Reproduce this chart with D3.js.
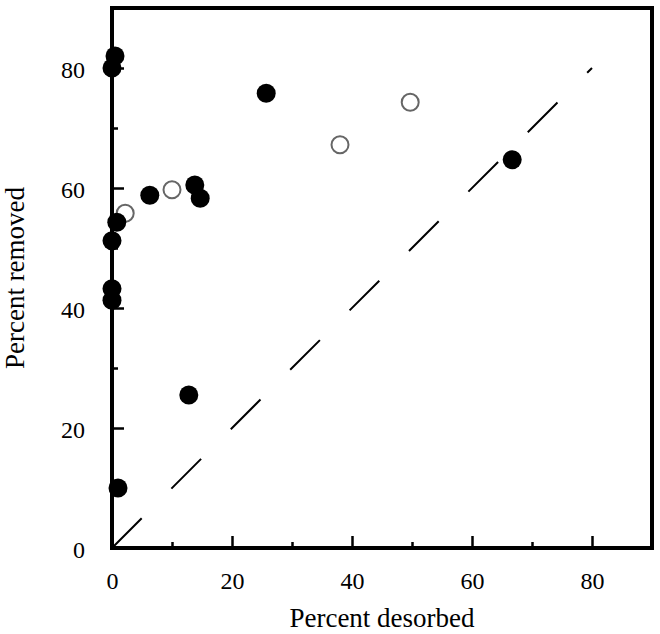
<!DOCTYPE html>
<html>
<head>
<meta charset="utf-8">
<script src="https://cdn.jsdelivr.net/npm/d3@7"></script>
<style>
  body { margin: 0; background: #fff; }
  text { font-family: "Liberation Serif", "Times New Roman", serif; fill: #000; }
</style>
</head>
<body>
<div id="chart"></div>
<script>
// filled circles
const filledX = [0.5, 0, 25.7, 66.7, 6.3, 13.8, 14.7, 0.8, 0, 0, 0, 12.8, 1];
const filledY = [82, 80, 75.8, 64.7, 58.8, 60.5, 58.3, 54.3, 51.2, 43.2, 41.3, 25.5, 10];
// open circles
const openX = [2.2, 10, 38, 49.7];
const openY = [55.8, 59.7, 67.2, 74.3];
// 1:1 line
const lineX = [0, 80];
const lineY = [0, 80];
const ticks = [0, 20, 40, 60, 80];
const minorTicks = [10, 30, 50, 70];

const W = 660, H = 634;
const margin = { top: 8, right: 8, bottom: 86, left: 112 };
const width = W - margin.left - margin.right;
const height = H - margin.top - margin.bottom;

const svg = d3.select("#chart").append("svg")
  .attr("width", W).attr("height", H);

const g = svg.append("g")
  .attr("transform", `translate(${margin.left},${margin.top})`);

const x = d3.scaleLinear().domain([0, 90]).range([0, width]);
const y = d3.scaleLinear().domain([0, 90]).range([height, 0]);

// dashed 1:1 line
g.append("path")
  .datum(lineX.map((d, i) => [d, lineY[i]]))
  .attr("fill", "none")
  .attr("stroke", "#000")
  .attr("stroke-width", 2)
  .attr("stroke-dasharray", "42,42")
  .attr("d", d3.line().x(d => x(d[0])).y(d => y(d[1])));

// axes with inward ticks
const xMajor = g.append("g").attr("transform", `translate(0,${height})`)
  .call(d3.axisBottom(x).tickValues(ticks).tickSize(-12).tickPadding(24).tickFormat(d3.format("d")));
const xMinor = g.append("g").attr("transform", `translate(0,${height})`)
  .call(d3.axisBottom(x).tickValues(minorTicks).tickSize(-6).tickFormat(""));
const yMajor = g.append("g")
  .call(d3.axisLeft(y).tickValues(ticks).tickSize(-12).tickPadding(27).tickFormat(d3.format("d")));
const yMinor = g.append("g")
  .call(d3.axisLeft(y).tickValues(minorTicks).tickSize(-6).tickFormat(""));

[xMajor, xMinor, yMajor, yMinor].forEach(a => {
  a.select(".domain").remove();
  a.selectAll(".tick line").attr("stroke", "#000").attr("stroke-width", 2.5);
});
xMajor.selectAll("text").style("font-size", "24px");
yMajor.selectAll("text").style("font-size", "24px").attr("dy", "0.4em");

// frame
g.append("rect")
  .attr("x", 0).attr("y", 0)
  .attr("width", width).attr("height", height)
  .attr("fill", "none")
  .attr("stroke", "#000")
  .attr("stroke-width", 4);

// points
g.selectAll(".open")
  .data(openX.map((d, i) => [d, openY[i]]))
  .join("circle")
  .attr("class", "open")
  .attr("cx", d => x(d[0])).attr("cy", d => y(d[1]))
  .attr("r", 8.5)
  .attr("fill", "#fff")
  .attr("stroke", "#666")
  .attr("stroke-width", 2);

g.selectAll(".filled")
  .data(filledX.map((d, i) => [d, filledY[i]]))
  .join("circle")
  .attr("class", "filled")
  .attr("cx", d => x(d[0])).attr("cy", d => y(d[1]))
  .attr("r", 9.5)
  .attr("fill", "#000");

// axis titles
svg.append("text")
  .attr("x", margin.left + x(45))
  .attr("y", 627)
  .attr("text-anchor", "middle")
  .style("font-size", "27px")
  .text("Percent desorbed");

svg.append("text")
  .attr("transform", `translate(24,${margin.top + y(45)}) rotate(-90)`)
  .attr("text-anchor", "middle")
  .style("font-size", "27px")
  .text("Percent removed");
</script>
</body>
</html>
